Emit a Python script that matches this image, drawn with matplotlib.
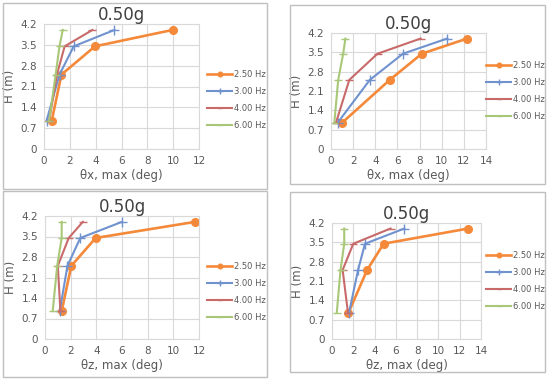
import matplotlib
matplotlib.use("Agg")
import matplotlib.pyplot as plt
from matplotlib.patches import Rectangle

W, H = 550, 380

heights = [0.95, 2.5, 3.45, 4.0]
freqs = ["2.50 Hz", "3.00 Hz", "4.00 Hz", "6.00 Hz"]

# theta_x, max (deg) -- left chart
tx_a = {
    "2.50 Hz": [0.6, 1.35, 3.95, 9.95],
    "3.00 Hz": [0.2, 1.2, 2.3, 5.45],
    "4.00 Hz": [0.4, 1.0, 1.6, 3.75],
    "6.00 Hz": [0.4, 0.9, 1.2, 1.45],
}
# theta_x, max (deg) -- right chart
tx_b = {
    "2.50 Hz": [1.0, 5.3, 8.2, 12.3],
    "3.00 Hz": [0.6, 3.5, 6.5, 10.5],
    "4.00 Hz": [0.45, 1.65, 4.2, 8.1],
    "6.00 Hz": [0.3, 0.65, 1.1, 1.3],
}
# theta_z, max (deg) -- left chart
tz_a = {
    "2.50 Hz": [1.3, 2.05, 3.95, 11.7],
    "3.00 Hz": [1.15, 1.75, 2.75, 6.0],
    "4.00 Hz": [1.2, 1.0, 1.85, 2.95],
    "6.00 Hz": [0.6, 0.95, 1.3, 1.3],
}
# theta_z, max (deg) -- right chart
tz_b = {
    "2.50 Hz": [1.55, 3.3, 4.85, 12.8],
    "3.00 Hz": [1.6, 2.45, 3.1, 6.8],
    "4.00 Hz": [1.5, 1.0, 2.0, 5.5],
    "6.00 Hz": [0.45, 0.8, 1.15, 1.15],
}

yticks = [0, 0.7, 1.4, 2.1, 2.8, 3.5, 4.2]
ytlabels = ["0", "0.7", "1.4", "2.1", "2.8", "3.5", "4.2"]

STY = {
    "2.50 Hz": dict(color="#F4893A", lw=1.9, marker="o", ms=5.5),
    "3.00 Hz": dict(color="#7092CE", lw=1.5, marker="+", ms=6.5, mew=1.0),
    "4.00 Hz": dict(color="#C86A6A", lw=1.5, marker="_", ms=6, mew=1.0),
    "6.00 Hz": dict(color="#A8C878", lw=1.5, marker="_", ms=6, mew=1.0),
}
C_GRID = "#D9D9D9"
C_TXT = "#595959"

plt.rcParams["font.family"] = "DejaVu Sans"

fig = plt.figure(figsize=(W / 100, H / 100), dpi=100)

def px(l, t, r, b):
    return [l / W, 1 - b / H, (r - l) / W, (b - t) / H]

panels = [
    # data, xmax, xlabel, axes px box, chart border box, legend anchor px
    (tx_a, 12, "θx, max (deg)", (44, 24, 199, 149), (3, 3, 267, 189), (207, 70)),
    (tx_b, 14, "θx, max (deg)", (331, 33, 486, 149), (290, 5, 545, 184), (486, 61)),
    (tz_a, 12, "θz, max (deg)", (45, 216, 199, 339), (3, 191, 267, 377), (207, 262)),
    (tz_b, 14, "θz, max (deg)", (332, 223, 481, 339), (290, 192, 545, 372), (486, 251)),
]

for data, xmax, xlab, box, border, lg in panels:
    l, t, r, b = border
    fig.patches.append(Rectangle((l / W, 1 - b / H), (r - l) / W, (b - t) / H,
                                 transform=fig.transFigure, fill=False,
                                 edgecolor="#BFBFBF", lw=1.0))
    ax = fig.add_axes(px(*box))
    for f in freqs:
        ax.plot(data[f], heights, label=f, **STY[f])
    ax.set_xlim(0, xmax)
    ax.set_ylim(0, 4.2)
    ax.set_xticks(range(0, xmax + 1, 2))
    ax.set_yticks(yticks)
    ax.set_yticklabels(ytlabels)
    ax.grid(True, color=C_GRID, lw=0.8)
    ax.set_axisbelow(True)
    for s in ax.spines.values():
        s.set_color(C_GRID)
        s.set_linewidth(0.8)
    ax.tick_params(length=0, labelsize=7.5, colors=C_TXT, pad=5)
    ax.set_xlabel(xlab, fontsize=8.5, color=C_TXT, labelpad=2)
    ax.set_ylabel("H (m)", fontsize=8.5, color=C_TXT, labelpad=3)
    ax.set_title("0.50g", fontsize=12, color="#404040", pad=2)
    leg = ax.legend(loc="upper left", bbox_to_anchor=(lg[0] / W, 1 - lg[1] / H),
                    bbox_transform=fig.transFigure, frameon=False, fontsize=6,
                    handlelength=3.0, labelspacing=0.95, handletextpad=0.25,
                    borderpad=0, borderaxespad=0, markerscale=0.6)
    for tx in leg.get_texts():
        tx.set_color(C_TXT)

fig.savefig("out.png", dpi=100)
